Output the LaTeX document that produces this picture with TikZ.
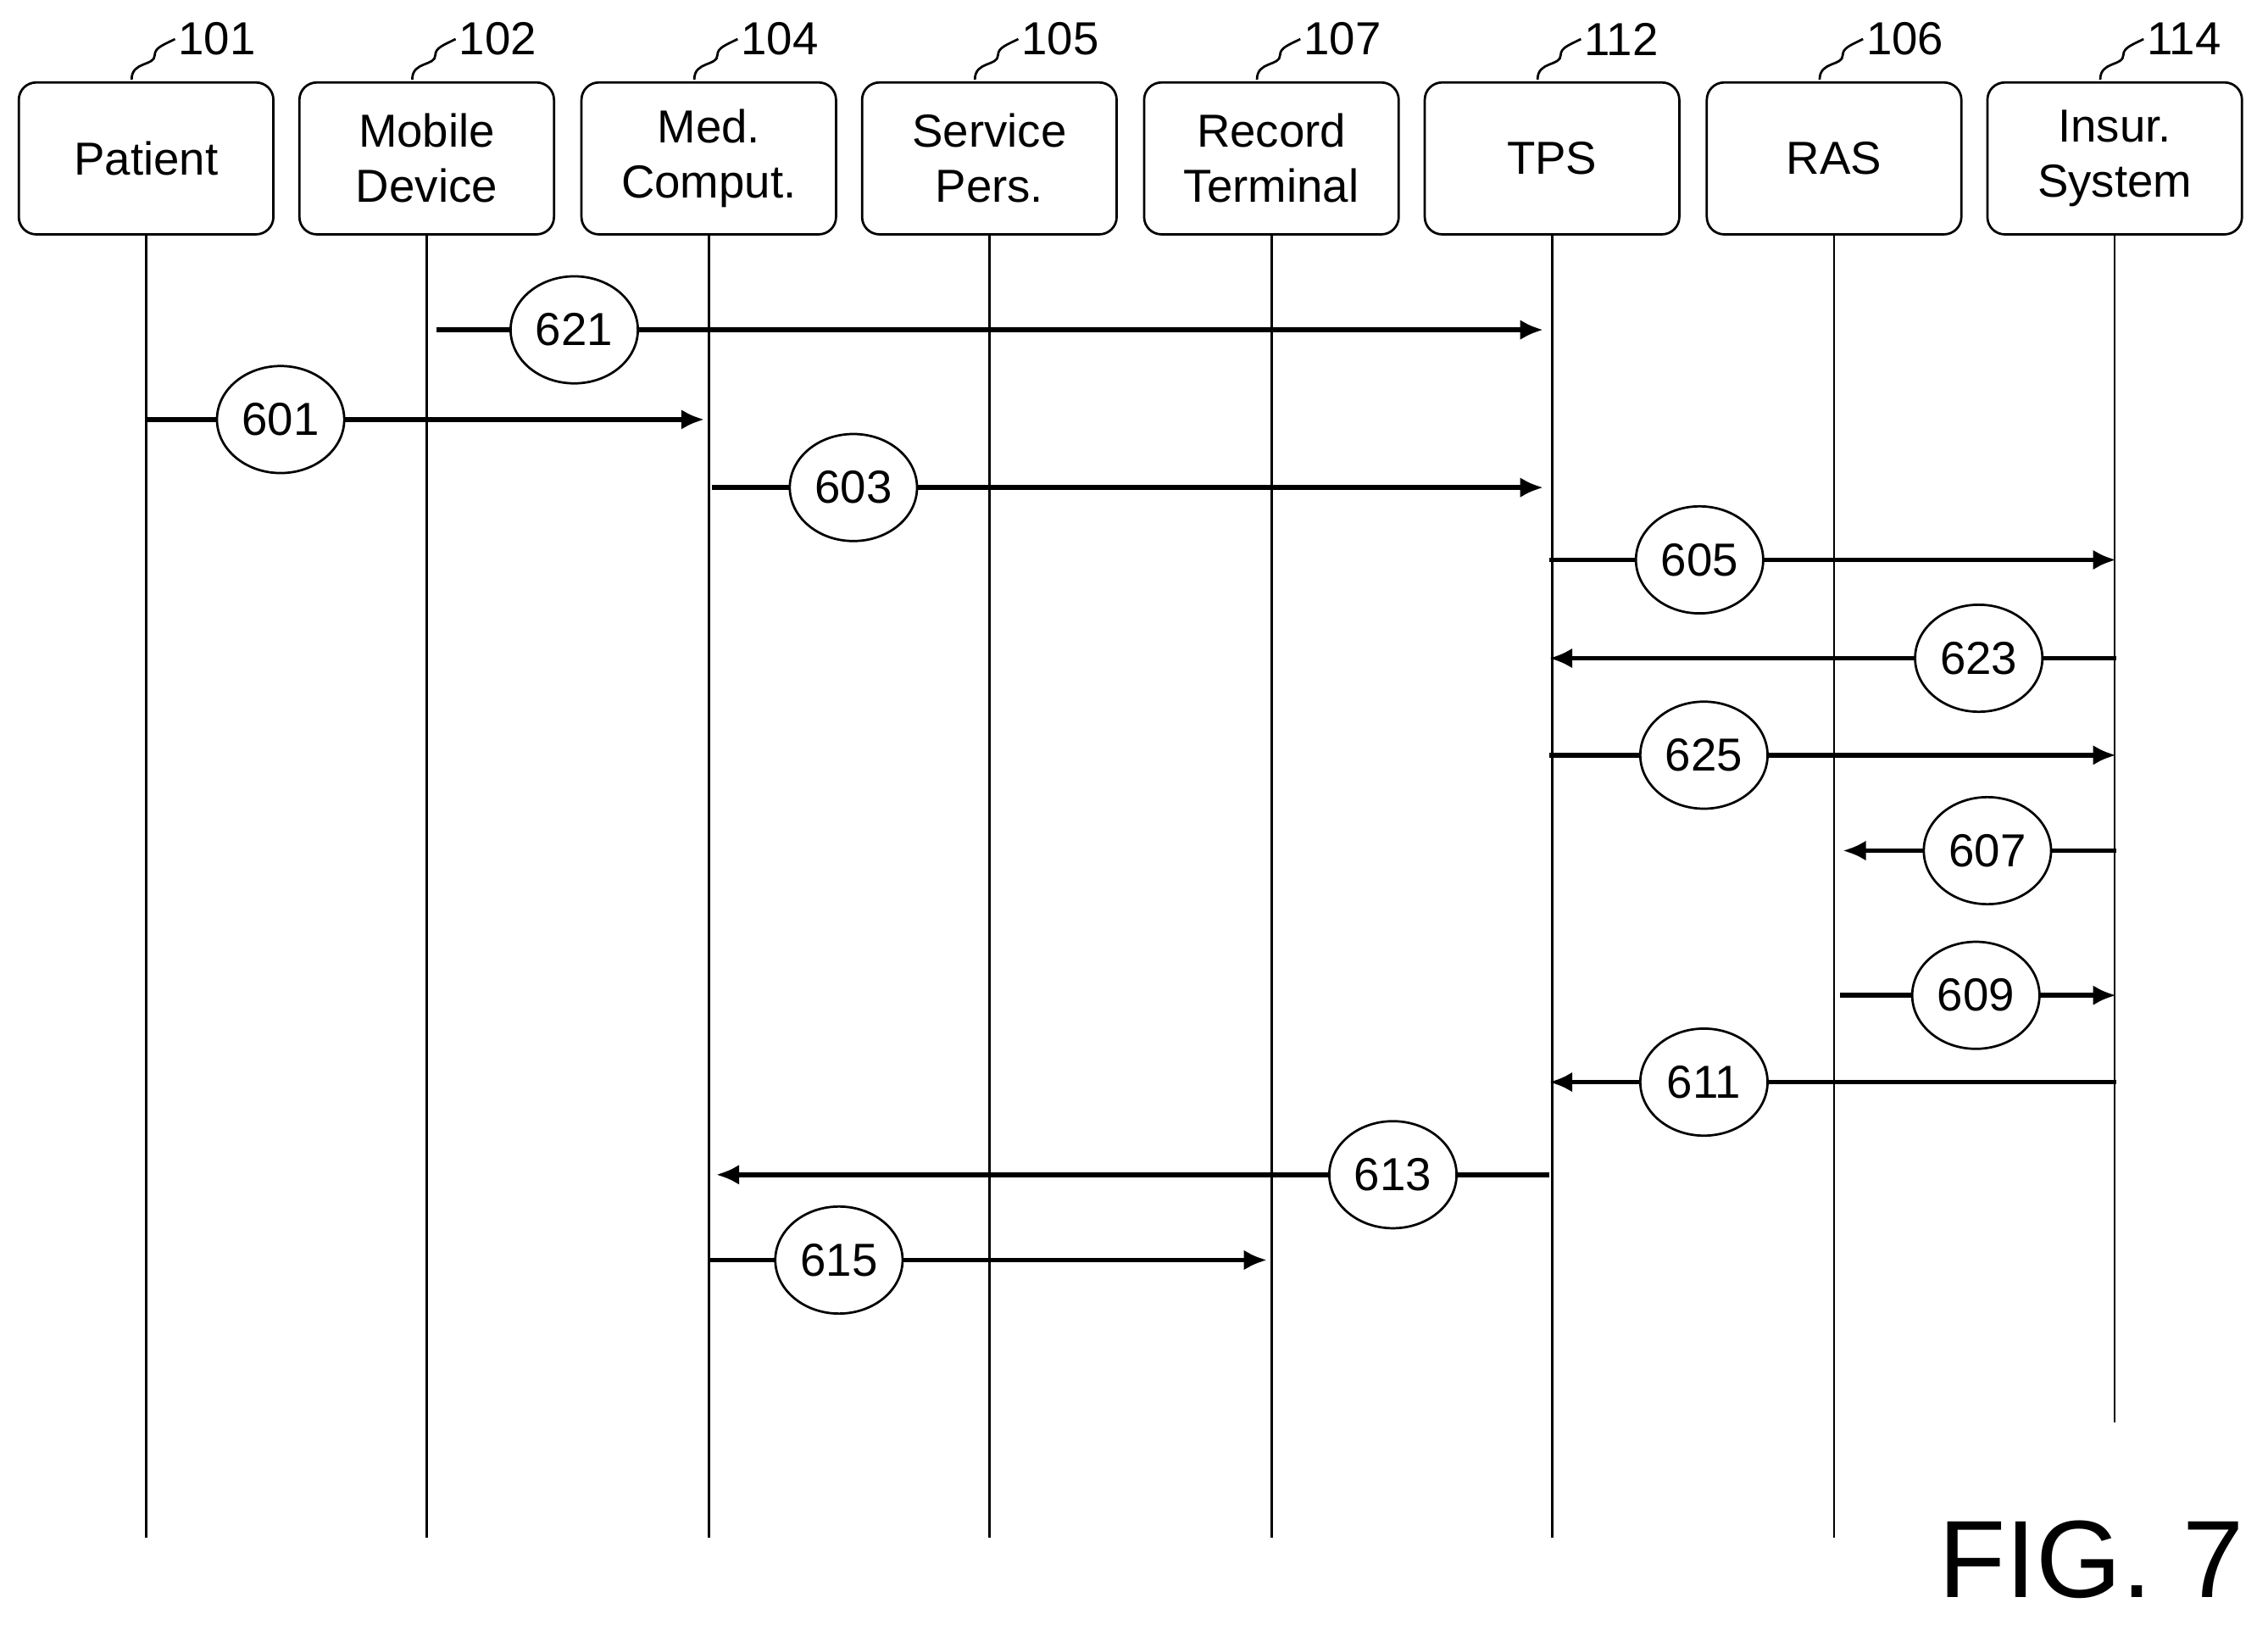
\documentclass[tikz,border=0pt]{standalone}
\usepackage{fontspec}
\setmainfont{Liberation Sans}
\usetikzlibrary{arrows.meta,shapes.geometric}
\begin{document}
\begin{tikzpicture}[x=0.5pt,y=-0.5pt,
 box/.style={draw,line width=0.8pt,rounded corners=6pt,minimum width=88pt,minimum height=52.5pt,align=center,font=\fontsize{16}{19}\selectfont,inner sep=0pt},
 life/.style={line width=0.8pt},
 msg/.style={line width=1.6pt},
 arr/.style={msg,-{Latex[length=8pt,width=7pt]}},
 num/.style={draw,ellipse,line width=0.8pt,minimum width=44pt,minimum height=37pt,inner sep=0pt,fill=white,font=\fontsize{16}{19}\selectfont},
 ref/.style={font=\fontsize{16}{19}\selectfont,anchor=west,inner sep=1pt},
 sq/.style={line width=0.8pt}]
\useasboundingbox (0,0) rectangle (1568,1123);
\foreach \n/\x/\t/\r in {pat/101/Patient/101, mob/295/Mobile\\Device/102, med/490/Med.\\Comput./104, ser/684/Service\\Pers./105, rec/879/Record\\Terminal/107, tps/1073/TPS/112, ras/1268/RAS/106, ins/1462/Insur.\\System/114}{
 \node[box] (\n) at (\x,109.5) {\t};
 \node[ref] (\n r) at (\x+20,27) {\r};
 \draw[sq] (\x-10,55) .. controls (\x-10,42) and (\x+6,46) .. (\x+6,38) .. controls (\x+6,33) and (\x+12,31) .. (\n r.west);
}
\foreach \n/\e in {pat/1063,mob/1063,med/1063,ser/1063,rec/1063,tps/1063,ras/1063,ins/983}{
 \coordinate (\n e) at (\n.south |- 0,\e);
 \draw[life] (\n.south) -- (\n e);
}
\foreach \l/\y/\a/\b/\c in {621/228/302/1067/397, 601/290/101/487/194, 603/337/492/1067/590, 605/387/1071/1463/1175, 623/455/1463/1071/1368, 625/522/1071/1463/1178, 607/588/1463/1274/1374, 609/688/1272/1463/1366, 611/748/1463/1071/1178, 613/812/1071/495/963, 615/871/490/876/580}{
 \coordinate (s\l) at (\a,\y);
 \coordinate (t\l) at (\b,\y);
 \draw[arr] (s\l) -- (t\l);
 \node[num] (m\l) at (\c,\y) {\l};
}
\node[font=\fontsize{38}{42}\selectfont,inner sep=0pt] (fig) at (1446,1078) {FIG. 7};
\end{tikzpicture}
\end{document}
